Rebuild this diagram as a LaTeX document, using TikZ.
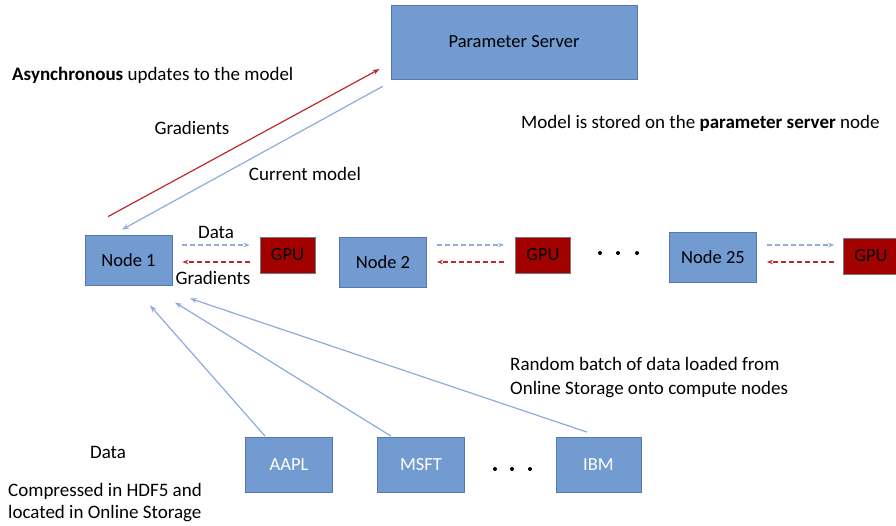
\documentclass[tikz,border=0pt]{standalone}
\usepackage{fontspec}
\setmainfont{Carlito}
\usetikzlibrary{arrows.meta}
\definecolor{boxblue}{RGB}{114,155,210}
\definecolor{boxedge}{RGB}{84,120,175}
\definecolor{gpured}{RGB}{163,0,0}
\definecolor{gpuedge}{RGB}{120,120,130}
\definecolor{arrred}{RGB}{192,40,45}
\definecolor{arrblue}{RGB}{140,172,222}
\tikzset{
  bluebox/.style={draw=boxedge, line width=0.8pt, fill=boxblue, inner sep=0pt, font=\fontsize{18.5}{22}\selectfont},
  gpubox/.style={draw=gpuedge, line width=0.8pt, fill=gpured, inner sep=0pt, minimum width=55pt, minimum height=36pt, font=\fontsize{18.5}{22}\selectfont},
  lbl/.style={inner sep=0pt, font=\fontsize{19}{22}\selectfont},
  redarr/.style={draw=arrred, line width=1.2pt, -{Stealth[length=7pt,width=5pt]}},
  bluearr/.style={draw=arrblue, line width=1.2pt, -{Stealth[length=7pt,width=5pt]}},
  dashblue/.style={draw=arrblue, line width=1.1pt, dash pattern=on 5pt off 3pt, -{Stealth[length=6pt,width=4.5pt]}},
  dashred/.style={draw=arrred, line width=1.1pt, dash pattern=on 5pt off 3pt, -{Stealth[length=6pt,width=4.5pt]}},
  dotc/.style={fill=black, circle, inner sep=0pt, minimum size=4pt}
}
\begin{document}
\begin{tikzpicture}[x=1pt,y=-1pt]
\useasboundingbox (0,0) rectangle (896,525);
% Parameter server
\node[bluebox, minimum width=246pt, minimum height=74pt] (ps) at (514,42) {Parameter Server};
% nodes row
\node[bluebox, minimum width=87pt, minimum height=50pt] (n1) at (128.5,260) {Node 1};
\node[gpubox] (g1) at (287.5,255) {GPU};
\node[bluebox, minimum width=87pt, minimum height=50pt] (n2) at (383,262) {Node 2};
\node[gpubox] (g2) at (543,255) {GPU};
\node[bluebox, minimum width=87pt, minimum height=50pt] (n25) at (713,257) {Node 25};
\node[gpubox] (g3) at (871,256) {GPU};
\node[dotc] (d1) at (600,253) {};
\node[dotc] (d2) at (618,253) {};
\node[dotc] (d3) at (637,253) {};
% storage row
\node[bluebox, text=white, minimum width=87pt, minimum height=55pt] (aapl) at (289,465) {AAPL};
\node[bluebox, text=white, minimum width=87pt, minimum height=55pt] (msft) at (421,465) {MSFT};
\node[bluebox, text=white, minimum width=85pt, minimum height=55pt] (ibm) at (598.5,465) {IBM};
\node[dotc] (d4) at (495,469) {};
\node[dotc] (d5) at (512,469) {};
\node[dotc] (d6) at (530,469) {};
% labels
\node[lbl, anchor=west] (async) at (12,75) {\textbf{Asynchronous} updates to the model};
\node[lbl] (gradtop) at (192,128) {Gradients};
\node[lbl] (curmod) at (305,174) {Current model};
\node[lbl, anchor=west] (stored) at (521,123) {Model is stored on the \textbf{parameter server} node};
\node[lbl] (datalbl) at (216,232) {Data};
\node[lbl] (gradlbl) at (213,278) {Gradients};
\node[lbl, anchor=west, align=left] (rand) at (510,378) {Random batch of data loaded from\\[2pt]Online Storage onto compute nodes};
\node[lbl] (datab) at (108,452) {Data};
\node[lbl, anchor=west, align=left] (comp) at (8,503) {Compressed in HDF5 and\\[0pt]located in Online Storage};
% PS arrows
\draw[redarr] ([shift={(-20.5,-18)}]n1.north) -- ([shift={(-11,27)}]ps.west);
\draw[bluearr] ([shift={(-8,7)}]ps.south west) -- ([shift={(-6.5,-5)}]n1.north);
% node-GPU arrows
\draw[dashblue] ([shift={(10,-15)}]n1.east) -- ([shift={(-10,-10)}]g1.west);
\draw[dashred] ([shift={(-10,7)}]g1.west) -- ([shift={(10,2)}]n1.east);
\draw[dashblue] ([shift={(10,-17)}]n2.east) -- ([shift={(-11,-10)}]g2.west);
\draw[dashred] ([shift={(-11,7)}]g2.west) -- ([shift={(10,0)}]n2.east);
\draw[dashblue] ([shift={(10,-12)}]n25.east) -- ([shift={(-9,-11)}]g3.west);
\draw[dashred] ([shift={(-9,6)}]g3.west) -- ([shift={(10,5)}]n25.east);
% storage arrows
\draw[bluearr] ([shift={(-24,-1)}]aapl.north) -- ([shift={(21.5,20)}]n1.south);
\draw[bluearr] ([shift={(-30,-1)}]msft.north) -- ([shift={(46.5,17)}]n1.south);
\draw[bluearr] ([shift={(-11.5,-5)}]ibm.north) -- ([shift={(61.5,13)}]n1.south);
\end{tikzpicture}
\end{document}
